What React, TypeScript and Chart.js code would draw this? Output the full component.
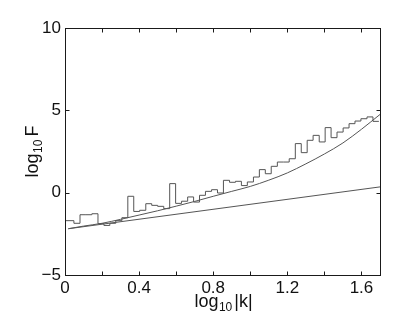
import React, { useEffect, useRef } from "react";
import { Chart, registerables } from "chart.js";

Chart.register(...registerables);

// Histogram bin edges (log10 |k|) and step heights (log10 F)
const HIST_EDGES = [
  0, 0.048, 0.081, 0.113, 0.145, 0.178, 0.21, 0.242, 0.274, 0.307, 0.339,
  0.371, 0.403, 0.436, 0.468, 0.5, 0.533, 0.565, 0.597, 0.629, 0.662, 0.694,
  0.726, 0.758, 0.791, 0.823, 0.855, 0.888, 0.92, 0.952, 0.984, 1.017, 1.049,
  1.081, 1.113, 1.146, 1.178, 1.21, 1.243, 1.275, 1.307, 1.339, 1.372, 1.404,
  1.436, 1.468, 1.501, 1.533, 1.565, 1.597, 1.63, 1.662, 1.694,
];
const HIST_VALUES = [
  -1.7, -1.86, -1.34, -1.34, -1.28, -1.88, -1.99, -1.86, -1.7, -1.52, -0.22,
  -1.14, -1.07, -0.67, -0.77, -0.83, -0.97, 0.55, -0.65, -0.52, -0.26, -0.57,
  -0.16, 0.08, 0.18, -0.02, 0.75, 0.63, 0.69, 0.43, 0.65, 0.95, 1.4, 1.15,
  1.6, 1.86, 1.86, 2.06, 2.98, 2.43, 3.18, 3.48, 3.08, 3.95, 3.34, 3.68, 3.93,
  4.19, 4.35, 4.49, 4.6, 4.33,
];

// Smooth curve
const CURVE_X = [
  0.018, 0.1, 0.2, 0.3, 0.4, 0.5, 0.6, 0.7, 0.8, 0.9, 1.0, 1.1, 1.2, 1.3, 1.4,
  1.5, 1.6, 1.7,
];
const CURVE_Y = [
  -2.19, -2.03, -1.86, -1.62, -1.36, -1.1, -0.82, -0.53, -0.22, 0.08, 0.38,
  0.76, 1.2, 1.75, 2.35, 3.02, 3.85, 4.75,
];

// Straight line
const LINE_X = [0.018, 1.7];
const LINE_Y = [-2.19, 0.35];

// Axes
const X_TICKS = [0, 0.4, 0.8, 1.2, 1.6];
const X_TICK_LABELS = ["0", "0.4", "0.8", "1.2", "1.6"];
const X_MINOR = [0.2, 0.4, 0.6, 0.8, 1.0, 1.2, 1.4, 1.6];
const Y_TICKS = [-5, 0, 5, 10];
const Y_TICK_LABELS = ["\u22125", "0", "5", "10"];

const FONT = "'Liberation Sans', Arial, Helvetica, sans-serif";

function drawParts(
  ctx: CanvasRenderingContext2D,
  parts: { t: string; size: number; dy: number; gap: number }[],
  cx: number,
  baseY: number
) {
  let total = 0;
  const widths = parts.map((p) => {
    ctx.font = `${p.size}px ${FONT}`;
    const w = ctx.measureText(p.t).width + p.gap;
    total += w;
    return w;
  });
  let x = cx - total / 2;
  ctx.textAlign = "left";
  ctx.textBaseline = "alphabetic";
  parts.forEach((p, i) => {
    ctx.font = `${p.size}px ${FONT}`;
    ctx.fillText(p.t, x, baseY + p.dy);
    x += widths[i];
  });
}

const framePlugin = {
  id: "frameAndTitles",
  afterDraw(chart: any) {
    const { ctx, chartArea } = chart;
    const xs = chart.scales.x;
    const ys = chart.scales.y;
    const l = Math.round(chartArea.left) + 0.5;
    const r = Math.round(chartArea.right) + 0.5;
    const t = Math.round(chartArea.top) + 0.5;
    const b = Math.round(chartArea.bottom) + 0.5;
    ctx.save();
    ctx.strokeStyle = "#1a1a1a";
    ctx.lineWidth = 1;
    ctx.strokeRect(l, t, r - l, b - t);
    const tl = 4;
    ctx.beginPath();
    X_MINOR.forEach((v) => {
      const px = Math.round(xs.getPixelForValue(v)) + 0.5;
      ctx.moveTo(px, b);
      ctx.lineTo(px, b - tl);
      ctx.moveTo(px, t);
      ctx.lineTo(px, t + tl);
    });
    Y_TICKS.forEach((v) => {
      const py = Math.round(ys.getPixelForValue(v)) + 0.5;
      ctx.moveTo(l, py);
      ctx.lineTo(l + tl, py);
      ctx.moveTo(r, py);
      ctx.lineTo(r - tl, py);
    });
    ctx.stroke();

    ctx.fillStyle = "#111";
    // x title
    drawParts(
      ctx,
      [
        { t: "log", size: 18, dy: 0, gap: 0.5 },
        { t: "10", size: 12, dy: 4, gap: 2 },
        { t: "|k|", size: 18, dy: 0, gap: 0 },
      ],
      (chartArea.left + chartArea.right) / 2 + 1,
      307
    );
    // y title
    ctx.save();
    ctx.translate(38, (chartArea.top + chartArea.bottom) / 2);
    ctx.rotate(-Math.PI / 2);
    drawParts(
      ctx,
      [
        { t: "log", size: 18, dy: 0, gap: 0.5 },
        { t: "10", size: 12, dy: 4, gap: 3 },
        { t: "F", size: 18, dy: 0, gap: 0 },
      ],
      0,
      0
    );
    ctx.restore();
    ctx.restore();
  },
};

export default function App() {
  const ref = useRef<HTMLCanvasElement | null>(null);

  useEffect(() => {
    document.body.style.margin = "0";
    const canvas = ref.current;
    if (!canvas) return;

    const histData = HIST_VALUES.map((v, i) => ({ x: HIST_EDGES[i], y: v }));
    histData.push({
      x: HIST_EDGES[HIST_EDGES.length - 1],
      y: HIST_VALUES[HIST_VALUES.length - 1],
    });
    const curveData = CURVE_X.map((x, i) => ({ x, y: CURVE_Y[i] }));
    const lineData = LINE_X.map((x, i) => ({ x, y: LINE_Y[i] }));

    const chart = new Chart(canvas, {
      type: "line",
      data: {
        datasets: [
          {
            data: histData,
            stepped: true,
            borderColor: "#555",
            borderWidth: 1,
            pointRadius: 0,
            fill: false,
          },
          {
            data: curveData,
            borderColor: "#555",
            borderWidth: 1,
            pointRadius: 0,
            cubicInterpolationMode: "monotone",
            fill: false,
          },
          {
            data: lineData,
            borderColor: "#555",
            borderWidth: 1,
            pointRadius: 0,
            fill: false,
          },
        ],
      },
      options: {
        responsive: false,
        animation: false,
        events: [],
        layout: { padding: { left: 0, top: 28, right: 27, bottom: 0 } },
        plugins: {
          legend: { display: false },
          tooltip: { enabled: false },
          title: { display: false },
        },
        scales: {
          x: {
            type: "linear",
            min: 0,
            max: 1.7,
            grid: { display: false, drawTicks: false },
            border: { display: false },
            afterBuildTicks: (scale: any) => {
              scale.ticks = X_TICKS.map((v) => ({ value: v }));
            },
            afterFit: (scale: any) => {
              scale.height = 48;
            },
            ticks: {
              autoSkip: false,
              maxRotation: 0,
              padding: 3,
              color: "#111",
              font: { family: FONT, size: 17 },
              callback: (_v: any, i: number) => X_TICK_LABELS[i],
            },
          },
          y: {
            type: "linear",
            min: -5,
            max: 10,
            grid: { display: false, drawTicks: false },
            border: { display: false },
            afterBuildTicks: (scale: any) => {
              scale.ticks = Y_TICKS.map((v) => ({ value: v }));
            },
            afterFit: (scale: any) => {
              scale.width = 65;
            },
            ticks: {
              autoSkip: false,
              padding: 4,
              color: "#111",
              font: { family: FONT, size: 17 },
              callback: (_v: any, i: number) => Y_TICK_LABELS[i],
            },
          },
        },
      },
      plugins: [framePlugin],
    });

    return () => chart.destroy();
  }, []);

  return (
    <div style={{ width: 407, height: 323, background: "#fff" }}>
      <canvas ref={ref} width={407} height={323} style={{ display: "block" }} />
    </div>
  );
}
